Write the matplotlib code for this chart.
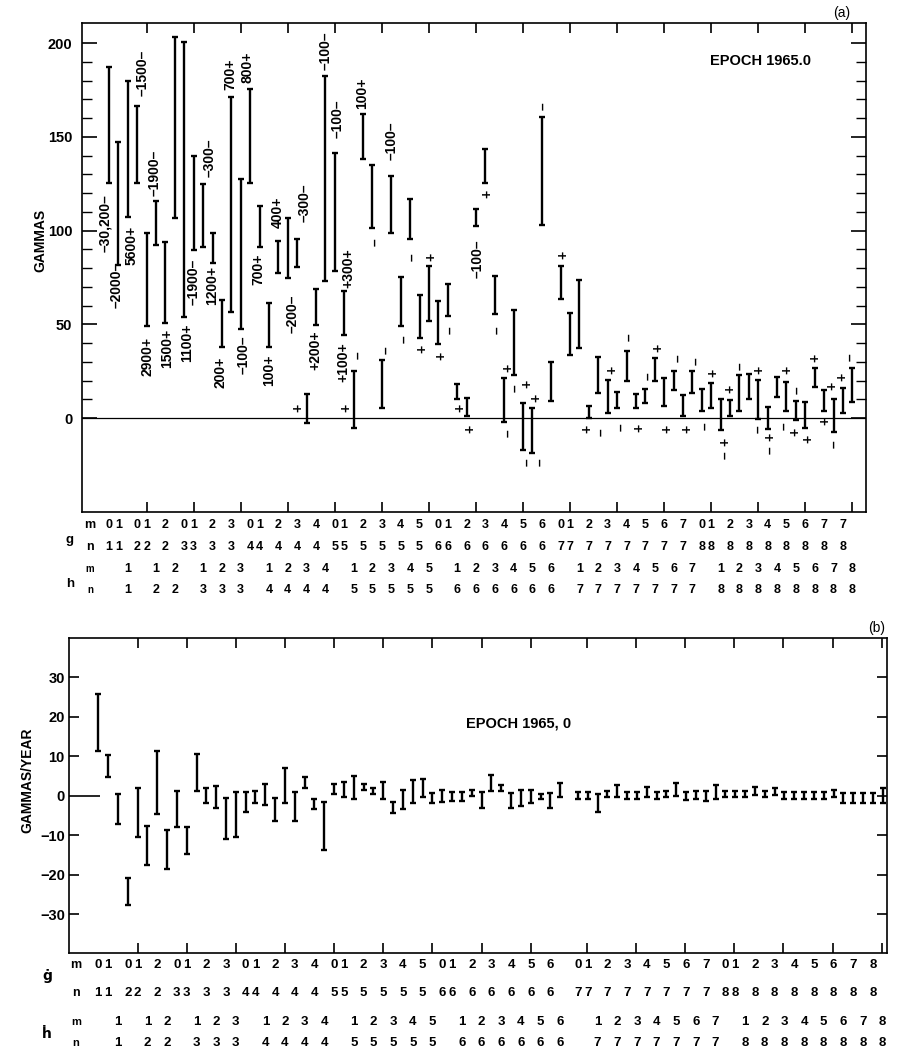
import numpy as np
import matplotlib
matplotlib.use("Agg")
import matplotlib.pyplot as plt
from matplotlib.ticker import FixedLocator, NullLocator

plt.rcParams['font.family'] = ['Liberation Sans', 'DejaVu Sans']
plt.rcParams['font.weight'] = 'bold'

# ---------------- categories: Gauss coefficients in plotting order ----------------
coef_kind, coef_n, coef_m = [], [], []
for n in range(1, 9):
    coef_kind.append('g'); coef_n.append(n); coef_m.append(0)
    for m in range(1, n + 1):
        coef_kind += ['g', 'h']; coef_n += [n, n]; coef_m += [m, m]

# ---------------- panel (a): coefficient spread, gammas ----------------
a_low = [125.5, 81.6, 107.4, 125.2, 49, 92.6, 50.8, 107, 53.7, 89.6,
         91.4, 82.5, 38, 56.7, 47.8, 125.2, 91.4, 38, 77.5, 74.5,
         80.7, -2.5, 49.6, 73, 78.6, 44.3, -5.2, 138, 101.2, 5.5,
         99, 49, 95.5, 43, 51.9, 39.8, 54.4, 10.5, 1.1, 102.4,
         125.5, 55.5, -2, 22.9, -16.7, -18.5, 102.9, 9.2, 63.8, 33.6,
         37.2, 0.2, 13.5, 2.8, 5.7, 19.9, 5.5, 8.2, 19.7, 6.4,
         15.3, 1.1, 13.2, 3.7, 5.2, -6.4, 1.1, 3.7, 10.5, -0.2,
         -5.5, 11.4, 3.7, -0.7, -5, 16.4, 3.7, -7.3, 3, 8.7]
a_high = [187.4, 147, 179.7, 166.4, 98.8, 115.7, 93.7, 203, 200.4, 139.7,
          124.8, 98.8, 63, 171.4, 127.5, 175.3, 113, 61.5, 94.6, 107,
          95.3, 13.1, 69.1, 182.4, 141.5, 67.7, 25.2, 162.1, 134.9, 30.9,
          129, 75.4, 117.1, 65.6, 81.2, 62.6, 71.5, 18.1, 11, 111.5,
          143.5, 75.9, 21.2, 57.6, 8.2, 5.2, 160.4, 30, 81.2, 56.3,
          73.6, 6.6, 32.4, 20.3, 14, 35.9, 12.8, 15.5, 32.2, 21.2,
          25.2, 12.3, 25.2, 15.8, 18.8, 10.1, 9.6, 22.9, 23.8, 20.3,
          6, 22, 19.4, 9.2, 8.4, 27, 14.9, 10.5, 16.2, 27]

# annotations (offset and sign) written beside the bars
a_lab_text = ["–30,200–", "–2000–", "5600+", "–1500–", "2900+", "–1900–", "1500+", "1100+",
              "–1900–", "–300–", "1200+", "200+", "700+", "–100–", "800+", "700+",
              "100+", "400+", "–200–", "–300–", "+", "+200+", "–100–", "–100–",
              "+300+", "+100+", "+", "–", "100+", "–", "–", "–100–",
              "–", "–", "+", "+", "+", "–", "+", "+",
              "–100–", "+", "–", "+", "–", "–", "+", "–",
              "+", "–", "–", "+", "+", "–", "+", "–",
              "–", "+", "–", "+", "+", "–", "+", "–",
              "–", "+", "+", "–", "+", "–", "+", "–",
              "+", "–", "+", "–", "–", "+", "+", "+",
              "+", "+", "–", "+", "–"]
a_lab_x = [-0.43, 0.85, 2.44, 3.61, 4.04, 4.89, 6.16, 8.29,
           9.03, 10.73, 10.95, 11.8, 12.86, 14.35, 14.77, 15.83,
           17.0, 17.96, 19.55, 20.83, 20.09, 21.89, 23.06, 24.34,
           25.4, 24.87, 25.19, 26.51, 26.89, 28.27, 29.44, 30.07,
           31.38, 32.23, 33.34, 34.29, 35.36, 36.31, 37.3, 38.36,
           39.18, 40.2, 41.27, 42.43, 42.43, 43.2, 44.5, 44.45,
           45.45, 45.8, 46.15, 48.28, 50.87, 52.32, 53.45, 54.41,
           55.29, 56.32, 57.35, 58.42, 59.37, 60.47, 61.46, 62.41,
           63.34, 64.22, 65.46, 65.46, 66.07, 67.06, 69.08, 68.97,
           70.24, 70.24, 72.08, 71.73, 73.11, 72.97, 74.31, 75.06,
           76.12, 76.83, 77.04, 77.97, 78.82]
a_lab_y = [104, 71, 92, 184, 33, 131, 37, 40,
           72.5, 139, 71, 24.5, 183.5, 34, 187, 79.5,
           25.6, 110, 55.5, 114.7, 5.5, 36.3, 196, 159.5,
           80, 29.8, 5.5, 33.6, 173, 94, 36.3, 148,
           42, 86, 36.8, 86, 33, 47, 5.5, -5.9,
           85, 119.8, 47, 27, -8, 16, 18.5, -23.3,
           11, -23.3, 166.4, 87, -5.9, -7.3, 25.6, -4.6,
           43, -5.3, 22.4, 37.5, -5.6, 31.8, -5.6, 30.6,
           -4, 24.2, -12.6, -19.7, 15.8, 27.7, 25.6, -5.6,
           -10, -17.2, 25.6, -4.2, 14.7, -7.3, -11.2, 32.2,
           -1.6, 17.3, -14, 22, 32.5]

# ---------------- panel (b): secular variation, gammas/year ----------------
b_low = [11.3, 4.7, -7, -27.6, -10.5, -17.5, -4.6, -18.4, -7.8, -14.8,
         1.3, -1.9, -3, -10.8, -10.5, -4.2, -1.9, -2.4, -6.4, -1.8,
         -6.4, 2.1, -3.4, -13.7, 0.4, -0.3, -0.8, 1.6, 0.6, -0.7,
         -4.3, -3.2, -1.7, -0.4, -1.7, -1.5, -1.3, -1.3, -0.1, -3,
         1.3, 1.3, -3, -2.6, -1.9, -0.7, -3, -0.3, -0.7, -0.7,
         -4.1, -0.3, -0.3, -0.7, -0.7, -0.3, -0.7, -0.4, -0.1, -1.1,
         -0.7, -1.3, -0.7, -0.3, -0.3, -0.3, 0.2, -0.3, 0.2, -0.7,
         -0.7, -0.7, -0.7, -0.7, -0.4, -1.9, -1.9, -1.9, -1.9, -1.9]
b_high = [25.7, 10.3, 0.6, -20.8, 2, -7.7, 11.3, -8.7, 1.2, -7.8,
          10.5, 2.1, 2.5, -0.5, 1, 1, 1.2, 2.9, -0.5, 7.1,
          1, 4.7, -0.7, -1.5, 3, 3.5, 5, 3.1, 1.9, 3.5,
          -1.5, 1.6, 4, 4.2, 0.8, 1.6, 1, 1, 1.6, 1,
          5.2, 2.7, 0.8, 1.6, 1.6, 0.6, 0.8, 3.2, 1, 1,
          0.6, 1.3, 2.7, 1, 1, 2.3, 1, 1.3, 3.3, 1,
          1.3, 1.3, 2.7, 1.3, 1.3, 1.3, 2.3, 1.3, 1.9, 1,
          1, 1, 1, 1, 1.6, 0.8, 0.8, 0.8, 0.8, 1.9]

W, H = 898, 1057
fig = plt.figure(figsize=(W / 100, H / 100), dpi=100)

def fx(px):
    return px / W

def fy(py):
    return 1 - py / H

idx = np.arange(len(coef_kind))
FS_T = 10.5

def draw_bars(ax, x, lo, hi):
    lo = np.asarray(lo, float); hi = np.asarray(hi, float)
    ax.errorbar(x, (lo + hi) / 2, yerr=(hi - lo) / 2, fmt='none', ecolor='black',
                elinewidth=1.7, capsize=2.2, capthick=1.7)

def style_frame(ax):
    for s in ax.spines.values():
        s.set_linewidth(1.2)

def xdata_to_fig(ax, x):
    return fig.transFigure.inverted().transform(ax.transData.transform((x, 0)))[0]

# ---------------- panel (a) ----------------
axa = fig.add_axes([fx(82), fy(512), fx(866) - fx(82), fy(23) - fy(512)])
style_frame(axa)
axa.set_xlim(-2.87, 80.45)
axa.set_ylim(-50, 210.7)
axa.axhline(0, color='black', lw=0.9)
draw_bars(axa, idx, a_low, a_high)
for t, x, y in zip(a_lab_text, a_lab_x, a_lab_y):
    axa.text(x, y, t, rotation=90, ha='center', va='center', fontsize=10,
             fontweight='bold')
axa.yaxis.set_major_locator(FixedLocator([0, 50, 100, 150, 200]))
axa.yaxis.set_minor_locator(FixedLocator([v for v in range(10, 210, 10) if v % 50]))
axa.xaxis.set_major_locator(FixedLocator(np.arange(4, 80, 5)))
axa.xaxis.set_minor_locator(NullLocator())
axa.tick_params(axis='y', which='major', direction='in', length=11, width=1.2,
                left=True, right=True, labelsize=FS_T, pad=7)
axa.tick_params(axis='y', which='minor', direction='in', length=7, width=1.0,
                left=True, right=True)
axa.tick_params(axis='x', which='major', direction='in', length=7, width=1.2,
                top=True, bottom=True, labelbottom=False)
for lab in axa.get_yticklabels():
    lab.set_fontweight('bold')

fig.text(fx(40), fy(240), 'GAMMAS', rotation=90, ha='center', va='center',
         fontsize=10, fontweight='bold')
fig.text(fx(760), fy(61), 'EPOCH 1965.0', ha='center', va='center',
         fontsize=10.5, fontweight='bold')
fig.text(fx(842), fy(13), '(a)', ha='center', va='center', fontsize=10,
         fontweight='normal')

# table below panel (a)
a_override = {('g', 8, 8): '7'}
rows_a = {'gm': fy(525), 'gn': fy(547), 'hm': fy(569), 'hn': fy(590)}
for i, (k, n, m) in enumerate(zip(coef_kind, coef_n, coef_m)):
    mt = a_override.get((k, n, m), str(m))
    xf = xdata_to_fig(axa, i)
    fig.text(xf, rows_a[k + 'm'], mt, ha='center', va='center', fontsize=9, fontweight='bold')
    fig.text(xf, rows_a[k + 'n'], str(n), ha='center', va='center', fontsize=9, fontweight='bold')
fig.text(fx(90), fy(525), 'm', ha='center', va='center', fontsize=9, fontweight='bold')
fig.text(fx(90), fy(547), 'n', ha='center', va='center', fontsize=9, fontweight='bold')
fig.text(fx(90), fy(569), 'm', ha='center', va='center', fontsize=7, fontweight='bold')
fig.text(fx(90), fy(590), 'n', ha='center', va='center', fontsize=7, fontweight='bold')
fig.text(fx(70), fy(540), 'g', ha='center', va='center', fontsize=9.5, fontweight='bold')
fig.text(fx(70), fy(584), 'h', ha='center', va='center', fontsize=9.5, fontweight='bold')

# ---------------- panel (b) ----------------
gap_b = 0.8
b_x = np.array([i + (gap_b if n >= 7 else 0) for i, n in enumerate(coef_n)], float)
axb = fig.add_axes([fx(69), fy(953), fx(887) - fx(69), fy(638) - fy(953)])
style_frame(axb)
axb.set_xlim(-2.97, 80.24)
axb.set_ylim(-39.8, 40)
draw_bars(axb, b_x, b_low, b_high)
bt = np.arange(4, 80, 5).astype(float)
bt[bt > 48] += 0.7
axb.xaxis.set_major_locator(FixedLocator(bt))
axb.xaxis.set_minor_locator(NullLocator())
b_yt = [-30, -20, -10, 0, 10, 20, 30]
axb.yaxis.set_major_locator(FixedLocator(b_yt))
axb.yaxis.set_minor_locator(NullLocator())
axb.set_yticklabels([('\u2212' + str(-v)) if v < 0 else str(v) for v in b_yt])
axb.tick_params(axis='y', which='major', direction='in', length=7, width=1.2,
                left=True, right=True, labelsize=FS_T, pad=3)
axb.tick_params(axis='x', which='major', direction='in', length=7, width=1.2,
                top=True, bottom=True, labelbottom=False)
for lab in axb.get_yticklabels():
    lab.set_fontweight('bold')
for t, v in zip(axb.yaxis.get_major_ticks(), b_yt):
    if v == 0:
        t.tick1line.set_markersize(22)

fig.text(fx(27), fy(780), 'GAMMAS/YEAR', rotation=90, ha='center', va='center',
         fontsize=10, fontweight='bold')
fig.text(fx(519), fy(723), 'EPOCH 1965, 0', ha='center', va='center',
         fontsize=10.5, fontweight='bold')
fig.text(fx(877), fy(628), '(b)', ha='center', va='center', fontsize=10,
         fontweight='normal')

rows_b = {'gm': fy(965), 'gn': fy(993), 'hm': fy(1022), 'hn': fy(1043)}
for i, (k, n, m) in enumerate(zip(coef_kind, coef_n, coef_m)):
    xf = xdata_to_fig(axb, b_x[i])
    fig.text(xf, rows_b[k + 'm'], str(m), ha='center', va='center', fontsize=9.5,
             fontweight='bold')
    fig.text(xf, rows_b[k + 'n'], str(n), ha='center', va='center', fontsize=9.5,
             fontweight='bold')
fig.text(fx(76), fy(965), 'm', ha='center', va='center', fontsize=9, fontweight='bold')
fig.text(fx(76), fy(993), 'n', ha='center', va='center', fontsize=9, fontweight='bold')
fig.text(fx(76), fy(1022), 'm', ha='center', va='center', fontsize=8, fontweight='bold')
fig.text(fx(76), fy(1043), 'n', ha='center', va='center', fontsize=8, fontweight='bold')
fig.text(fx(47), fy(976), '\u0121', ha='center', va='center', fontsize=10, fontweight='bold',
         family=['DejaVu Sans'])
fig.text(fx(47), fy(1034), '\u1e23', ha='center', va='center', fontsize=10, fontweight='bold',
         family=['DejaVu Sans'])

fig.savefig('out.png', dpi=100)
